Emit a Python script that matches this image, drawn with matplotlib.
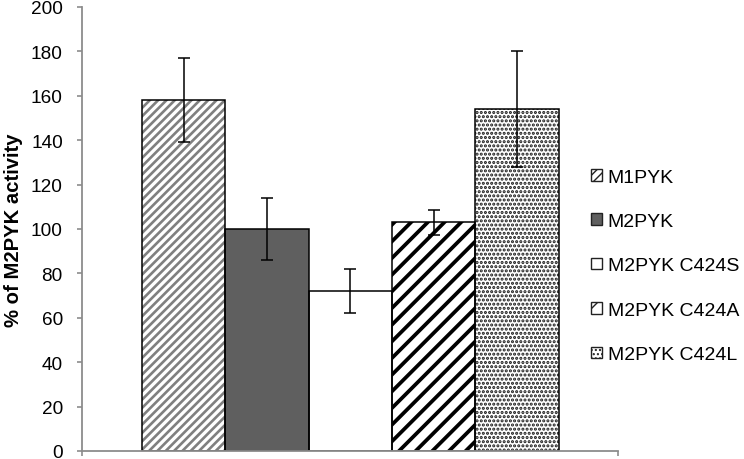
import matplotlib
matplotlib.use("Agg")
import matplotlib.pyplot as plt
from matplotlib.patches import Patch

plt.rcParams["font.family"] = ["Liberation Sans", "DejaVu Sans"]

# data
labels = ["M1PYK", "M2PYK", "M2PYK C424S", "M2PYK C424A", "M2PYK C424L"]
values = [158, 100, 72, 103, 154]
errors = [19, 14, 10, 5.5, 26]
y_ticks = [0, 20, 40, 60, 80, 100, 120, 140, 160, 180, 200]

# per-bar look: (face, hatch, hatch colour, hatch width)
styles = [
    ("white", "////", "#808080", 1.9),
    ("#5f5f5f", None, "black", 1.0),
    ("white", None, "black", 1.0),
    ("white", "//", "black", 2.7),
    ("white", "....", "#1a1a1a", 1.5),
]

fig = plt.figure(figsize=(7.44, 4.6), dpi=100)
ax = fig.add_axes([82 / 744, 8 / 460, 536 / 744, 444 / 460])

xs = list(range(len(values)))
for x, v, (face, hatch, hcol, hlw) in zip(xs, values, styles):
    with plt.rc_context({"hatch.linewidth": hlw}):
        b = ax.bar(x, v, width=1.0, color=face, hatch=hatch, edgecolor=hcol,
                   linewidth=0, zorder=2)
    for p in b:
        if hasattr(p, "set_hatch_linewidth"):
            p.set_hatch_linewidth(hlw)
    ax.bar(x, v, width=1.0, fill=False, edgecolor="black", linewidth=1.1, zorder=3)

ax.errorbar(xs, values, yerr=errors, fmt="none", ecolor="black", elinewidth=1.1,
            capsize=4.3, capthick=1.1, zorder=4)

ax.set_ylim(0, 200)
ax.set_xlim(-1.22, 5.21)
ax.set_yticks(y_ticks)
ax.set_xticks([-1.22, 5.21])
ax.set_xticklabels([])
ax.tick_params(axis="both", direction="out", length=3.8, width=1.2, color="#8c8c8c",
               labelsize=13.7, pad=10)
for s in ["top", "right"]:
    ax.spines[s].set_visible(False)
for s in ["left", "bottom"]:
    ax.spines[s].set_color("#8c8c8c")
    ax.spines[s].set_linewidth(1.3)
    ax.spines[s].set_zorder(5)
ax.set_ylabel("% of M2PYK activity", fontsize=14.6, fontweight="bold", labelpad=6)

handles = []
for face, hatch, hcol, hlw in styles:
    handles.append(Patch(facecolor=face, hatch=hatch, edgecolor="#222222", linewidth=1.0))
fig.legend(handles, labels, loc="center left", bbox_to_anchor=(591 / 744, 1 - 267 / 460),
           frameon=False, fontsize=14, handlelength=0.55, handleheight=0.55,
           handletextpad=0.3, labelspacing=1.41, borderpad=0, borderaxespad=0)

fig.savefig("out.png", dpi=100)
